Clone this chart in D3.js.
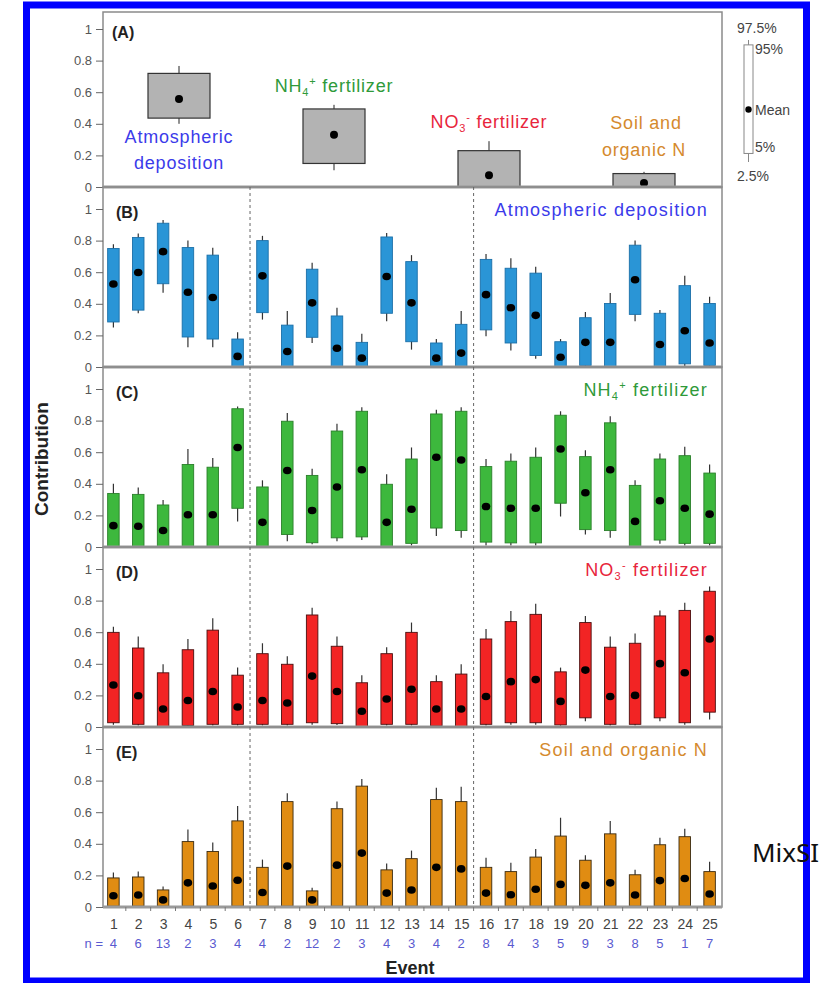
<!DOCTYPE html>
<html><head><meta charset="utf-8">
<script src="https://cdn.jsdelivr.net/npm/d3@7"></script>
<style>body{margin:0;background:#fff}svg{display:block;font-family:"Liberation Sans",Arial,sans-serif}</style>
</head><body><svg id="c" width="823" height="983"></svg>
<script>
// ---------- data ----------
const events = ["1","2","3","4","5","6","7","8","9","10","11","12","13","14","15","16","17","18","19","20","21","22","23","24","25"];
const nValues = [4,6,13,2,3,4,4,2,12,2,3,4,3,4,2,8,4,3,5,9,3,8,5,1,7];
const yTicks = [0,0.2,0.4,0.6,0.8,1];

// Panel A: overall source contributions
const sources = ["Atmospheric deposition","NH4+ fertilizer","NO3- fertilizer","Soil and organic N"];
const aMean = [0.557,0.33,0.074,0.026];
const aP5   = [0.436,0.149,0,0];
const aP95  = [0.719,0.494,0.23,0.085];
const aP2_5 = [0.40,0.106,0,0];
const aP97_5= [0.766,0.52,0.29,0.096];

// Panel B: atmospheric deposition
const atmMean = [0.525,0.598,0.73,0.473,0.44,0.067,0.577,0.098,0.406,0.119,0.056,0.573,0.406,0.056,0.088,0.458,0.375,0.327,0.062,0.156,0.156,0.552,0.142,0.229,0.152];
const atmP5   = [0.285,0.36,0.527,0.19,0.177,0,0.344,0,0.188,0,0,0.34,0.16,0,0,0.235,0.152,0.073,0,0.01,0,0.333,0,0.02,0.01];
const atmP95  = [0.75,0.82,0.91,0.756,0.708,0.177,0.80,0.265,0.619,0.323,0.156,0.823,0.667,0.152,0.27,0.681,0.625,0.594,0.16,0.312,0.402,0.771,0.34,0.515,0.402];
const atmP2_5 = [0.25,0.34,0.47,0.125,0.125,0,0.30,0,0.152,0,0,0.29,0.11,0,0,0.194,0.104,0.052,0,0,0,0.29,0,0,0];
const atmP97_5= [0.777,0.845,0.93,0.80,0.754,0.22,0.83,0.354,0.66,0.375,0.21,0.848,0.708,0.177,0.354,0.715,0.688,0.635,0.177,0.348,0.469,0.80,0.36,0.577,0.444];

// Panel C: NH4+ fertilizer
const nh4Mean = [0.135,0.131,0.104,0.204,0.204,0.63,0.156,0.484,0.231,0.38,0.489,0.156,0.239,0.568,0.551,0.256,0.245,0.245,0.62,0.343,0.489,0.162,0.293,0.245,0.208];
const nh4P5   = [0,0,0,0,0,0.245,0,0.079,0.027,0.058,0.064,0,0.023,0.12,0.104,0.031,0.026,0.026,0.277,0.11,0.104,0,0.044,0.023,0.023];
const nh4P95  = [0.339,0.333,0.266,0.522,0.505,0.875,0.38,0.796,0.453,0.734,0.859,0.397,0.557,0.842,0.859,0.509,0.543,0.568,0.834,0.572,0.786,0.39,0.557,0.578,0.468];
const nh4P2_5 = [0,0,0,0,0,0.162,0,0.037,0.017,0.037,0.044,0,0.01,0.069,0.058,0.01,0.01,0.01,0.193,0.079,0.058,0,0.02,0.01,0.01];
const nh4P97_5= [0.40,0.376,0.297,0.62,0.563,0.89,0.422,0.848,0.495,0.78,0.884,0.46,0.63,0.869,0.884,0.557,0.592,0.63,0.859,0.613,0.827,0.422,0.592,0.634,0.522];

// Panel D: NO3- fertilizer
const no3Mean = [0.266,0.198,0.114,0.168,0.225,0.127,0.168,0.152,0.322,0.225,0.10,0.177,0.239,0.114,0.114,0.193,0.287,0.30,0.162,0.36,0.193,0.20,0.401,0.343,0.557];
const no3P5   = [0.027,0.017,0,0.01,0.017,0.017,0.017,0.017,0.027,0.021,0,0.017,0.017,0.006,0,0.017,0.027,0.027,0.013,0.058,0.017,0.017,0.058,0.027,0.094];
const no3P95  = [0.599,0.5,0.343,0.489,0.613,0.328,0.464,0.397,0.709,0.511,0.28,0.464,0.599,0.287,0.335,0.557,0.667,0.713,0.349,0.661,0.505,0.53,0.703,0.738,0.859];
const no3P2_5 = [0.015,0.01,0,0.005,0.01,0.01,0.01,0.01,0.015,0.012,0,0.01,0.01,0,0,0.01,0.015,0.015,0.008,0.037,0.01,0.01,0.037,0.015,0.048];
const no3P97_5= [0.634,0.572,0.397,0.557,0.688,0.376,0.53,0.447,0.755,0.572,0.328,0.505,0.661,0.328,0.397,0.62,0.734,0.78,0.376,0.703,0.572,0.592,0.738,0.786,0.89];

// Panel E: soil and organic N
const soilMean = [0.071,0.076,0.045,0.153,0.133,0.169,0.092,0.259,0.045,0.265,0.341,0.088,0.108,0.251,0.241,0.088,0.078,0.112,0.143,0.137,0.153,0.076,0.167,0.18,0.082];
const soilP5   = [0.005,0.005,0.005,0.005,0.005,0.005,0.005,0.005,0.005,0.005,0.005,0.005,0.005,0.005,0.005,0.005,0.005,0.005,0.005,0.005,0.005,0.005,0.005,0.005,0.005];
const soilP95  = [0.184,0.19,0.108,0.414,0.351,0.545,0.251,0.667,0.102,0.622,0.765,0.235,0.306,0.68,0.667,0.251,0.224,0.316,0.449,0.296,0.463,0.204,0.394,0.445,0.224];
const soilP2_5 = [0,0,0,0,0,0,0,0,0,0,0,0,0,0,0,0,0,0,0,0,0,0,0,0,0];
const soilP97_5= [0.218,0.224,0.129,0.49,0.408,0.639,0.30,0.72,0.122,0.667,0.81,0.276,0.357,0.755,0.761,0.312,0.28,0.367,0.565,0.327,0.545,0.235,0.439,0.496,0.286];

// legend (schematic box)
const legendLabels = ["97.5%","95%","Mean","5%","2.5%"];

// ---------- drawing ----------
const svg = d3.select("#c");
const plotL = 103, plotR = 722;
const panelTops = [12,187,367,547,727];
const unit = 158;

const x = d3.scalePoint().domain(events).range([113.4, 709.6]);
const step = x.step();

function yAxisFor(g, y){
  const ax = d3.axisLeft(y).tickValues(yTicks).tickSize(7).tickPadding(4)
    .tickFormat(d => d===0?"0":d===1?"1":d3.format(".1f")(d));
  g.call(ax);
  g.select(".domain").remove();
  g.selectAll(".tick line").attr("stroke","#666");
  g.selectAll(".tick text").attr("fill","#555").style("font-size","13px").style("font-family","'Liberation Sans',Arial,sans-serif");
}

function frame(top, bottom){
  svg.append("rect").attr("x",plotL).attr("y",top).attr("width",plotR-plotL).attr("height",bottom-top)
    .attr("fill","none").attr("stroke","#8a8a8a").attr("stroke-width",1.5);
  svg.append("line").attr("x1",plotL).attr("x2",plotR).attr("y1",bottom).attr("y2",bottom)
    .attr("stroke","#9a9a9a").attr("stroke-width",3);
}

// ---- Panel A ----
{
  const bottom = 187;
  const y = d3.scaleLinear().domain([0,1]).range([bottom, bottom-unit]);
  const xa = d3.scalePoint().domain(sources).range([179, 644]);
  const bw = 62;
  const g = svg.append("g");
  sources.forEach((s,i)=>{
    const cx = xa(s);
    g.append("line").attr("x1",cx).attr("x2",cx).attr("y1",y(aP2_5[i])).attr("y2",y(aP97_5[i])).attr("stroke","#222").attr("stroke-width",1);
    g.append("rect").attr("x",cx-bw/2).attr("y",y(aP95[i])).attr("width",bw).attr("height",y(aP5[i])-y(aP95[i]))
      .attr("fill","#b3b3b3").attr("stroke","#333").attr("stroke-width",1.2);
    g.append("circle").attr("cx",cx).attr("cy",y(aMean[i])).attr("r",4).attr("fill","#000");
  });
  frame(panelTops[0], bottom);
  yAxisFor(svg.append("g").attr("transform",`translate(${plotL},0)`), y);
  svg.append("text").attr("x",112).attr("y",38).attr("font-weight","bold").style("font-size","16px").attr("fill","#222").text("(A)");

  const ls = "letter-spacing:0.8px;font-size:18px";
  const t1 = svg.append("text").attr("text-anchor","middle").attr("fill","#3b3bea").attr("style",ls);
  t1.append("tspan").attr("x",xa(sources[0])).attr("y",143).text("Atmospheric");
  t1.append("tspan").attr("x",xa(sources[0])).attr("y",169).text("deposition");

  const t2 = svg.append("text").attr("text-anchor","middle").attr("x",xa(sources[1])).attr("y",92).attr("fill","#2f9a3a").attr("style",ls);
  t2.append("tspan").text("NH");
  t2.append("tspan").attr("dy",4).style("font-size","11px").text("4");
  t2.append("tspan").attr("dy",-11).style("font-size","11px").text("+");
  t2.append("tspan").attr("dy",7).text(" fertilizer");

  const t3 = svg.append("text").attr("text-anchor","middle").attr("x",xa(sources[2])).attr("y",128).attr("fill","#e8253c").attr("style",ls);
  t3.append("tspan").text("NO");
  t3.append("tspan").attr("dy",4).style("font-size","11px").text("3");
  t3.append("tspan").attr("dy",-11).style("font-size","11px").text("-");
  t3.append("tspan").attr("dy",7).text(" fertilizer");

  const t4 = svg.append("text").attr("text-anchor","middle").attr("fill","#d58a2e").attr("style",ls);
  t4.append("tspan").attr("x",xa(sources[3])).attr("y",129).attr("dx",2).text("Soil and");
  t4.append("tspan").attr("x",xa(sources[3])).attr("y",156).text("organic N");

  // legend
  const ly = d3.scaleLinear().domain([0,1]).range([162,40]);
  const lx = 748.5;
  const lv = [1,0.96,0.43,0.07,0];
  svg.append("line").attr("x1",lx).attr("x2",lx).attr("y1",ly(lv[4])).attr("y2",ly(lv[0])).attr("stroke","#888");
  svg.append("rect").attr("x",lx-4.5).attr("y",ly(lv[1])).attr("width",9).attr("height",ly(lv[3])-ly(lv[1]))
    .attr("fill","#fff").attr("stroke","#888").attr("stroke-width",1);
  svg.append("circle").attr("cx",lx).attr("cy",ly(lv[2])).attr("r",3.2).attr("fill","#000");
  const lt = svg.append("g").attr("fill","#444").style("font-size","14px");
  lt.append("text").attr("x",737).attr("y",ly(lv[0])-7).text(legendLabels[0]);
  lt.append("text").attr("x",755).attr("y",ly(lv[1])+9).text(legendLabels[1]);
  lt.append("text").attr("x",755).attr("y",ly(lv[2])+5).text(legendLabels[2]);
  lt.append("text").attr("x",755).attr("y",ly(lv[3])-1).text(legendLabels[3]);
  lt.append("text").attr("x",737).attr("y",ly(lv[4])+19).text(legendLabels[4]);
}

// ---- Panels B-E ----
const panels = [
  {tag:"(B)", mean:atmMean, p5:atmP5, p95:atmP95, lo:atmP2_5, hi:atmP97_5, fill:"#2a95d6", stroke:"#1b6fa8", title:"atm", tcol:"#3b3bea"},
  {tag:"(C)", mean:nh4Mean, p5:nh4P5, p95:nh4P95, lo:nh4P2_5, hi:nh4P97_5, fill:"#3db83d", stroke:"#2a7f2a", title:"nh4", tcol:"#2f9a3a"},
  {tag:"(D)", mean:no3Mean, p5:no3P5, p95:no3P95, lo:no3P2_5, hi:no3P97_5, fill:"#f22424", stroke:"#4a0f0f", title:"no3", tcol:"#e8253c"},
  {tag:"(E)", mean:soilMean, p5:soilP5, p95:soilP95, lo:soilP2_5, hi:soilP97_5, fill:"#e08c12", stroke:"#3a2a10", title:"soil", tcol:"#d58a2e"}
];
const bw = 11.5;
panels.forEach((p,k)=>{
  const top = panelTops[k+1], bottom = top+180;
  const y = d3.scaleLinear().domain([0,1]).range([bottom, bottom-unit]);
  const g = svg.append("g");
  g.selectAll("line.w").data(events).join("line")
    .attr("x1",d=>x(d)).attr("x2",d=>x(d))
    .attr("y1",(d,i)=>y(p.lo[i])).attr("y2",(d,i)=>y(p.hi[i]))
    .attr("stroke","#333").attr("stroke-width",1.2);
  g.selectAll("rect").data(events).join("rect")
    .attr("x",d=>x(d)-bw/2).attr("width",bw)
    .attr("y",(d,i)=>y(p.p95[i])).attr("height",(d,i)=>y(p.p5[i])-y(p.p95[i]))
    .attr("fill",p.fill).attr("stroke",p.stroke).attr("stroke-width",0.9);
  g.selectAll("ellipse").data(events).join("ellipse")
    .attr("cx",d=>x(d)).attr("cy",(d,i)=>y(p.mean[i])).attr("rx",4.3).attr("ry",3.8).attr("fill","#000");
  frame(top, bottom);
  yAxisFor(svg.append("g").attr("transform",`translate(${plotL},0)`), y);
  svg.append("text").attr("x",116).attr("y",top+31).attr("font-weight","bold").style("font-size","16px").attr("fill","#222").text(p.tag);

  const tt = svg.append("text").attr("text-anchor","end").attr("x",708).attr("y",top+29).attr("fill",p.tcol)
    .attr("style","letter-spacing:1.2px;font-size:18px");
  if(p.title==="atm"){ tt.text("Atmospheric deposition"); }
  else if(p.title==="nh4"){
    tt.append("tspan").text("NH");
    tt.append("tspan").attr("dy",4).style("font-size","11px").text("4");
    tt.append("tspan").attr("dy",-11).style("font-size","11px").text("+");
    tt.append("tspan").attr("dy",7).text(" fertilizer");
  } else if(p.title==="no3"){
    tt.append("tspan").text("NO");
    tt.append("tspan").attr("dy",4).style("font-size","11px").text("3");
    tt.append("tspan").attr("dy",-11).style("font-size","11px").text("-");
    tt.append("tspan").attr("dy",7).text(" fertilizer");
  } else { tt.text("Soil and organic N"); }
});

// dashed separators
[["6","7"],["15","16"]].forEach(([a,b])=>{
  const xm = (x(a)+x(b))/2;
  svg.append("line").attr("x1",xm).attr("x2",xm).attr("y1",187).attr("y2",907)
    .attr("stroke","#666").attr("stroke-width",1).attr("stroke-dasharray","3,3");
});

// x axis ticks & labels
const xb = 907;
const xAx = d3.axisBottom(x).tickSize(0).tickPadding(12);
const xg = svg.append("g").attr("transform",`translate(0,${xb})`).call(xAx);
xg.select(".domain").remove();
xg.selectAll(".tick text").attr("fill","#444").style("font-size","14px").style("font-family","'Liberation Sans',Arial,sans-serif");
svg.selectAll("line.bt").data(events.slice(0,-1)).join("line").attr("class","bt")
  .attr("x1",d=>x(d)+step/2).attr("x2",d=>x(d)+step/2).attr("y1",xb).attr("y2",xb+4).attr("stroke","#777");
svg.selectAll("text.nv").data(nValues).join("text").attr("class","nv")
  .attr("x",(d,i)=>x(events[i])).attr("y",948).attr("text-anchor","middle")
  .attr("fill","#5a5ad0").style("font-size","13px").text(d=>d);
svg.append("text").attr("x",103).attr("y",948).attr("text-anchor","end").attr("fill","#5a5ad0").style("font-size","13px").text("n =");

// axis titles
svg.append("text").attr("transform","translate(48,459) rotate(-90)").attr("text-anchor","middle")
  .attr("font-weight","bold").style("font-size","19px").attr("fill","#222").text("Contribution");
svg.append("text").attr("x",410).attr("y",974).attr("text-anchor","middle")
  .attr("font-weight","bold").style("font-size","18px").attr("fill","#222").text("Event");

// blue frame
svg.append("rect").attr("x",26.5).attr("y",5).attr("width",780).attr("height",976)
  .attr("fill","none").attr("stroke","#0000ff").attr("stroke-width",7);

svg.append("text").attr("x",752).attr("y",862).attr("fill","#111").style("font-size","26px")
  .style("font-family","'Noto Sans',sans-serif").text("MixSI");
</script></body></html>
